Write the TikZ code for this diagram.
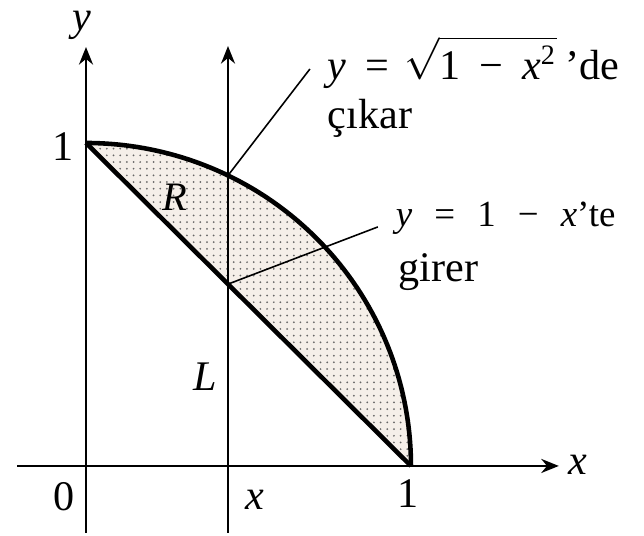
\documentclass[tikz,border=0pt]{standalone}
\usepackage{fontspec}
\setmainfont{Liberation Serif}
\usetikzlibrary{arrows.meta,patterns.meta}
\definecolor{regionfill}{RGB}{245,239,233}
\tikzset{
  axisline/.style={line width=0.7pt,-{Stealth[length=5pt,width=4pt]}},
  boundary/.style={line width=1.3pt},
  leader/.style={line width=0.45pt},
  lbl/.style={inner sep=0pt,font=\fontsize{12}{14}\selectfont},
  smalllbl/.style={inner sep=0pt,font=\fontsize{10.5}{12}\selectfont},
  rlbl/.style={inner sep=0pt,font=\fontsize{11.5}{13}\selectfont\itshape}
}
\begin{document}
\begin{tikzpicture}[x=3.25cm,y=3.23cm]
\useasboundingbox (-0.2646,-0.2167) rectangle (1.717,1.4427);
% shaded region
\fill[regionfill] plot[domain=0:90,samples=80] ({cos(\x)},{sin(\x)}) -- (0,1) -- cycle;
\fill[pattern={Dots[distance=1.9pt,radius=0.28pt]},pattern color=black!60] plot[domain=0:90,samples=80] ({cos(\x)},{sin(\x)}) -- (0,1) -- cycle;
% axes
\coordinate (xa0) at (-0.212,0);
\coordinate (xa1) at (1.455,0);
\coordinate (ya0) at (0,-0.207);
\coordinate (ya1) at (0,1.297);
\coordinate (va0) at (0.437,-0.207);
\coordinate (va1) at (0.437,1.30);
\draw[axisline] (xa0) -- (xa1);
\draw[axisline] (ya0) -- (ya1);
\draw[axisline,line width=0.6pt] (va0) -- (va1);
% boundary curves
\coordinate (top) at (0,1);
\coordinate (right) at (1,0);
\draw[boundary] plot[domain=0:90,samples=80] ({cos(\x)},{sin(\x)});
\draw[boundary] (top) -- (right);
% leader lines
\coordinate (p1) at (0.437,{sqrt(1-0.437*0.437)});
\coordinate (p2) at (0.437,0.563);
\coordinate (e1) at (0.689,1.229);
\coordinate (e2) at (0.898,0.740);
\draw[leader] (p1) -- (e1);
\draw[leader] (p2) -- (e2);
% labels
\node[lbl] (ylab) at (-0.012,1.365) {\textit{y}};
\node[lbl] (xlab) at (1.514,0.003) {\textit{x}};
\node[lbl] (one y) at (-0.071,0.988) {1};
\node[lbl] (zero) at (-0.068,-0.096) {0};
\node[lbl] (xval) at (0.52,-0.105) {\textit{x}};
\node[lbl] (one x) at (0.991,-0.087) {1};
\node[rlbl] (R) at (0.274,0.833) {R};
\node[lbl] (L) at (0.366,0.276) {\textit{L}};
\node[lbl,anchor=base west] (t1) at (0.742,1.195) {\textit{y}\hspace{.45em}=\hspace{.35em}$\sqrt{\mbox{1\hspace{.45em}−\hspace{.45em}\textit{x}\textsuperscript{2}}\rule{0pt}{0.92em}}$\hspace{.2em}’de};
\node[lbl,anchor=base west] (t1b) at (0.742,1.046) {çıkar};
\node[smalllbl,anchor=base west] (t2) at (0.951,0.740) {\textit{y}\hspace{.6em}=\hspace{.6em}1\hspace{.6em}−\hspace{.6em}\textit{x}’te};
\node[lbl,anchor=base west] (t2b) at (0.960,0.570) {girer};
\end{tikzpicture}
\end{document}
